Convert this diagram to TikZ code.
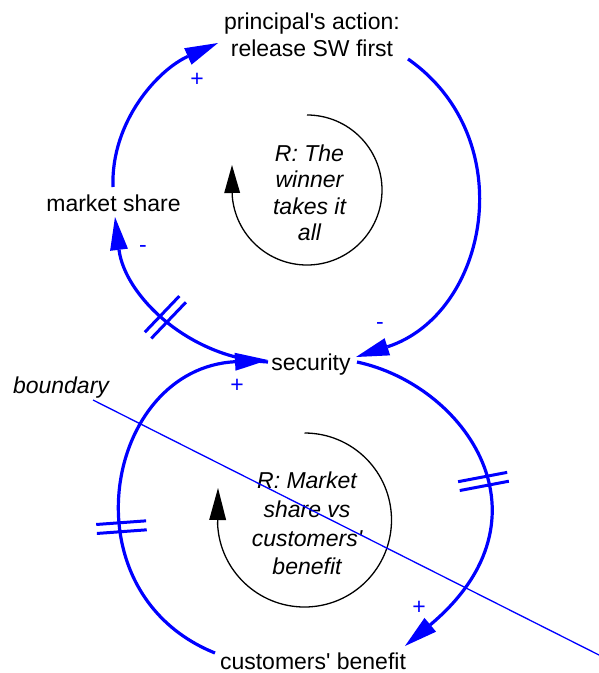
\documentclass[tikz,border=0pt]{standalone}
\usepackage{fontspec}
\newfontfamily\diafont{Liberation Sans}
\usetikzlibrary{arrows.meta,decorations.markings}
\definecolor{linkblue}{RGB}{0,0,255}
\tikzset{
  varname/.style={inner sep=0pt, align=center, font=\diafont\fontsize{23}{27.4}\selectfont},
  loopname/.style={inner sep=0pt, align=center, font=\diafont\itshape\fontsize{23}{26.3}\selectfont},
  polarity/.style={inner sep=0pt, text=linkblue, font=\diafont\fontsize{23}{27}\selectfont},
  link/.style={draw=linkblue, line width=3.2pt, -{Triangle[length=33pt,width=18pt,line width=0pt]}},
  delaymark/.style={postaction={decorate, decoration={markings,
      mark=at position #1 with {\draw[-, draw=linkblue, line width=3pt]
        (-4.5pt,-25pt) -- (-4.5pt,25pt) (4.5pt,-25pt) -- (4.5pt,25pt);}}}},
  loopline/.style={draw=black, line width=1.3pt},
  boundaryline/.style={draw=linkblue, line width=1.3pt},
}
\begin{document}
\begin{tikzpicture}[x=1pt, y=1pt]
\useasboundingbox (0,0) rectangle (599,-673);
\fill[white] (0,0) rectangle (599,-673);

% variables
\node[varname] (pa) at (312,-34.7) {principal's action:\\release SW first};
\node[varname, anchor=base] (ms) at (113.5,-211.7) {market share};
\node[varname, anchor=base] (sec) at (311,-370) {security};
\node[varname, anchor=base] (cb) at (313,-669) {customers' benefit};
\node[loopname, anchor=base] (bd) at (61,-393) {boundary};

% loop names
\node[loopname] (r1) at (309.5,-192.9) {R: The\\winner\\takes it\\all};
\node[loopname, font=\diafont\itshape\fontsize{23}{28.9}\selectfont] (r2) at (307,-523.4)
  {R: Market\\share vs\\customers'\\benefit};

% loop direction arrows
\coordinate (l1s) at (307,-115);
\coordinate (l1e) at (232,-165);
\draw[loopline, -{Triangle[length=28pt,width=16pt,line width=0pt]}]
  (l1s) arc[start angle=90, end angle=-176, radius=75] -- (l1e);
\coordinate (l2s) at (304.5,-433);
\coordinate (l2e) at (218,-488);
\draw[loopline, -{Triangle[length=32pt,width=17pt,line width=0pt]}]
  (l2s) arc[start angle=90, end angle=-177, radius=87] -- (l2e);

% link end points
\coordinate (A0) at (113,-187);
\coordinate (A1) at (218,-43);
\coordinate (B0) at (408,-59);
\coordinate (B1) at (356,-357);
\coordinate (C0) at (268,-362);
\coordinate (C1) at (115,-217);
\coordinate (D0) at (215,-653);
\coordinate (D1) at (268,-360);
\coordinate (E0) at (357,-362);
\coordinate (E1) at (405,-646);

% causal links
\draw[link] (A0) to[out=92, in=204, looseness=0.94] (A1);
\draw[link] (B0) to[out=-35, in=18, looseness=1.18] (B1);
\draw[link, delaymark=0.5] (C0) to[out=177, in=277, looseness=0.96] (C1);
\draw[link, delaymark=0.4] (D0) to[out=158, in=183, looseness=1.40] (D1);
\draw[link, delaymark=0.49] (E0) to[out=-12, in=40, out looseness=0.98, in looseness=1.78] (E1);

% polarities
\node[polarity] (pA) at (197,-80) {+};
\node[polarity] (pB) at (380,-326) {-};
\node[polarity] (pC) at (143,-249) {-};
\node[polarity] (pD) at (237,-386) {+};
\node[polarity] (pE) at (419,-608) {+};

% model boundary
\coordinate (bd0) at (93,-400);
\coordinate (bd1) at (600,-655.5);
\draw[boundaryline] (bd0) -- (bd1);
\end{tikzpicture}
\end{document}
